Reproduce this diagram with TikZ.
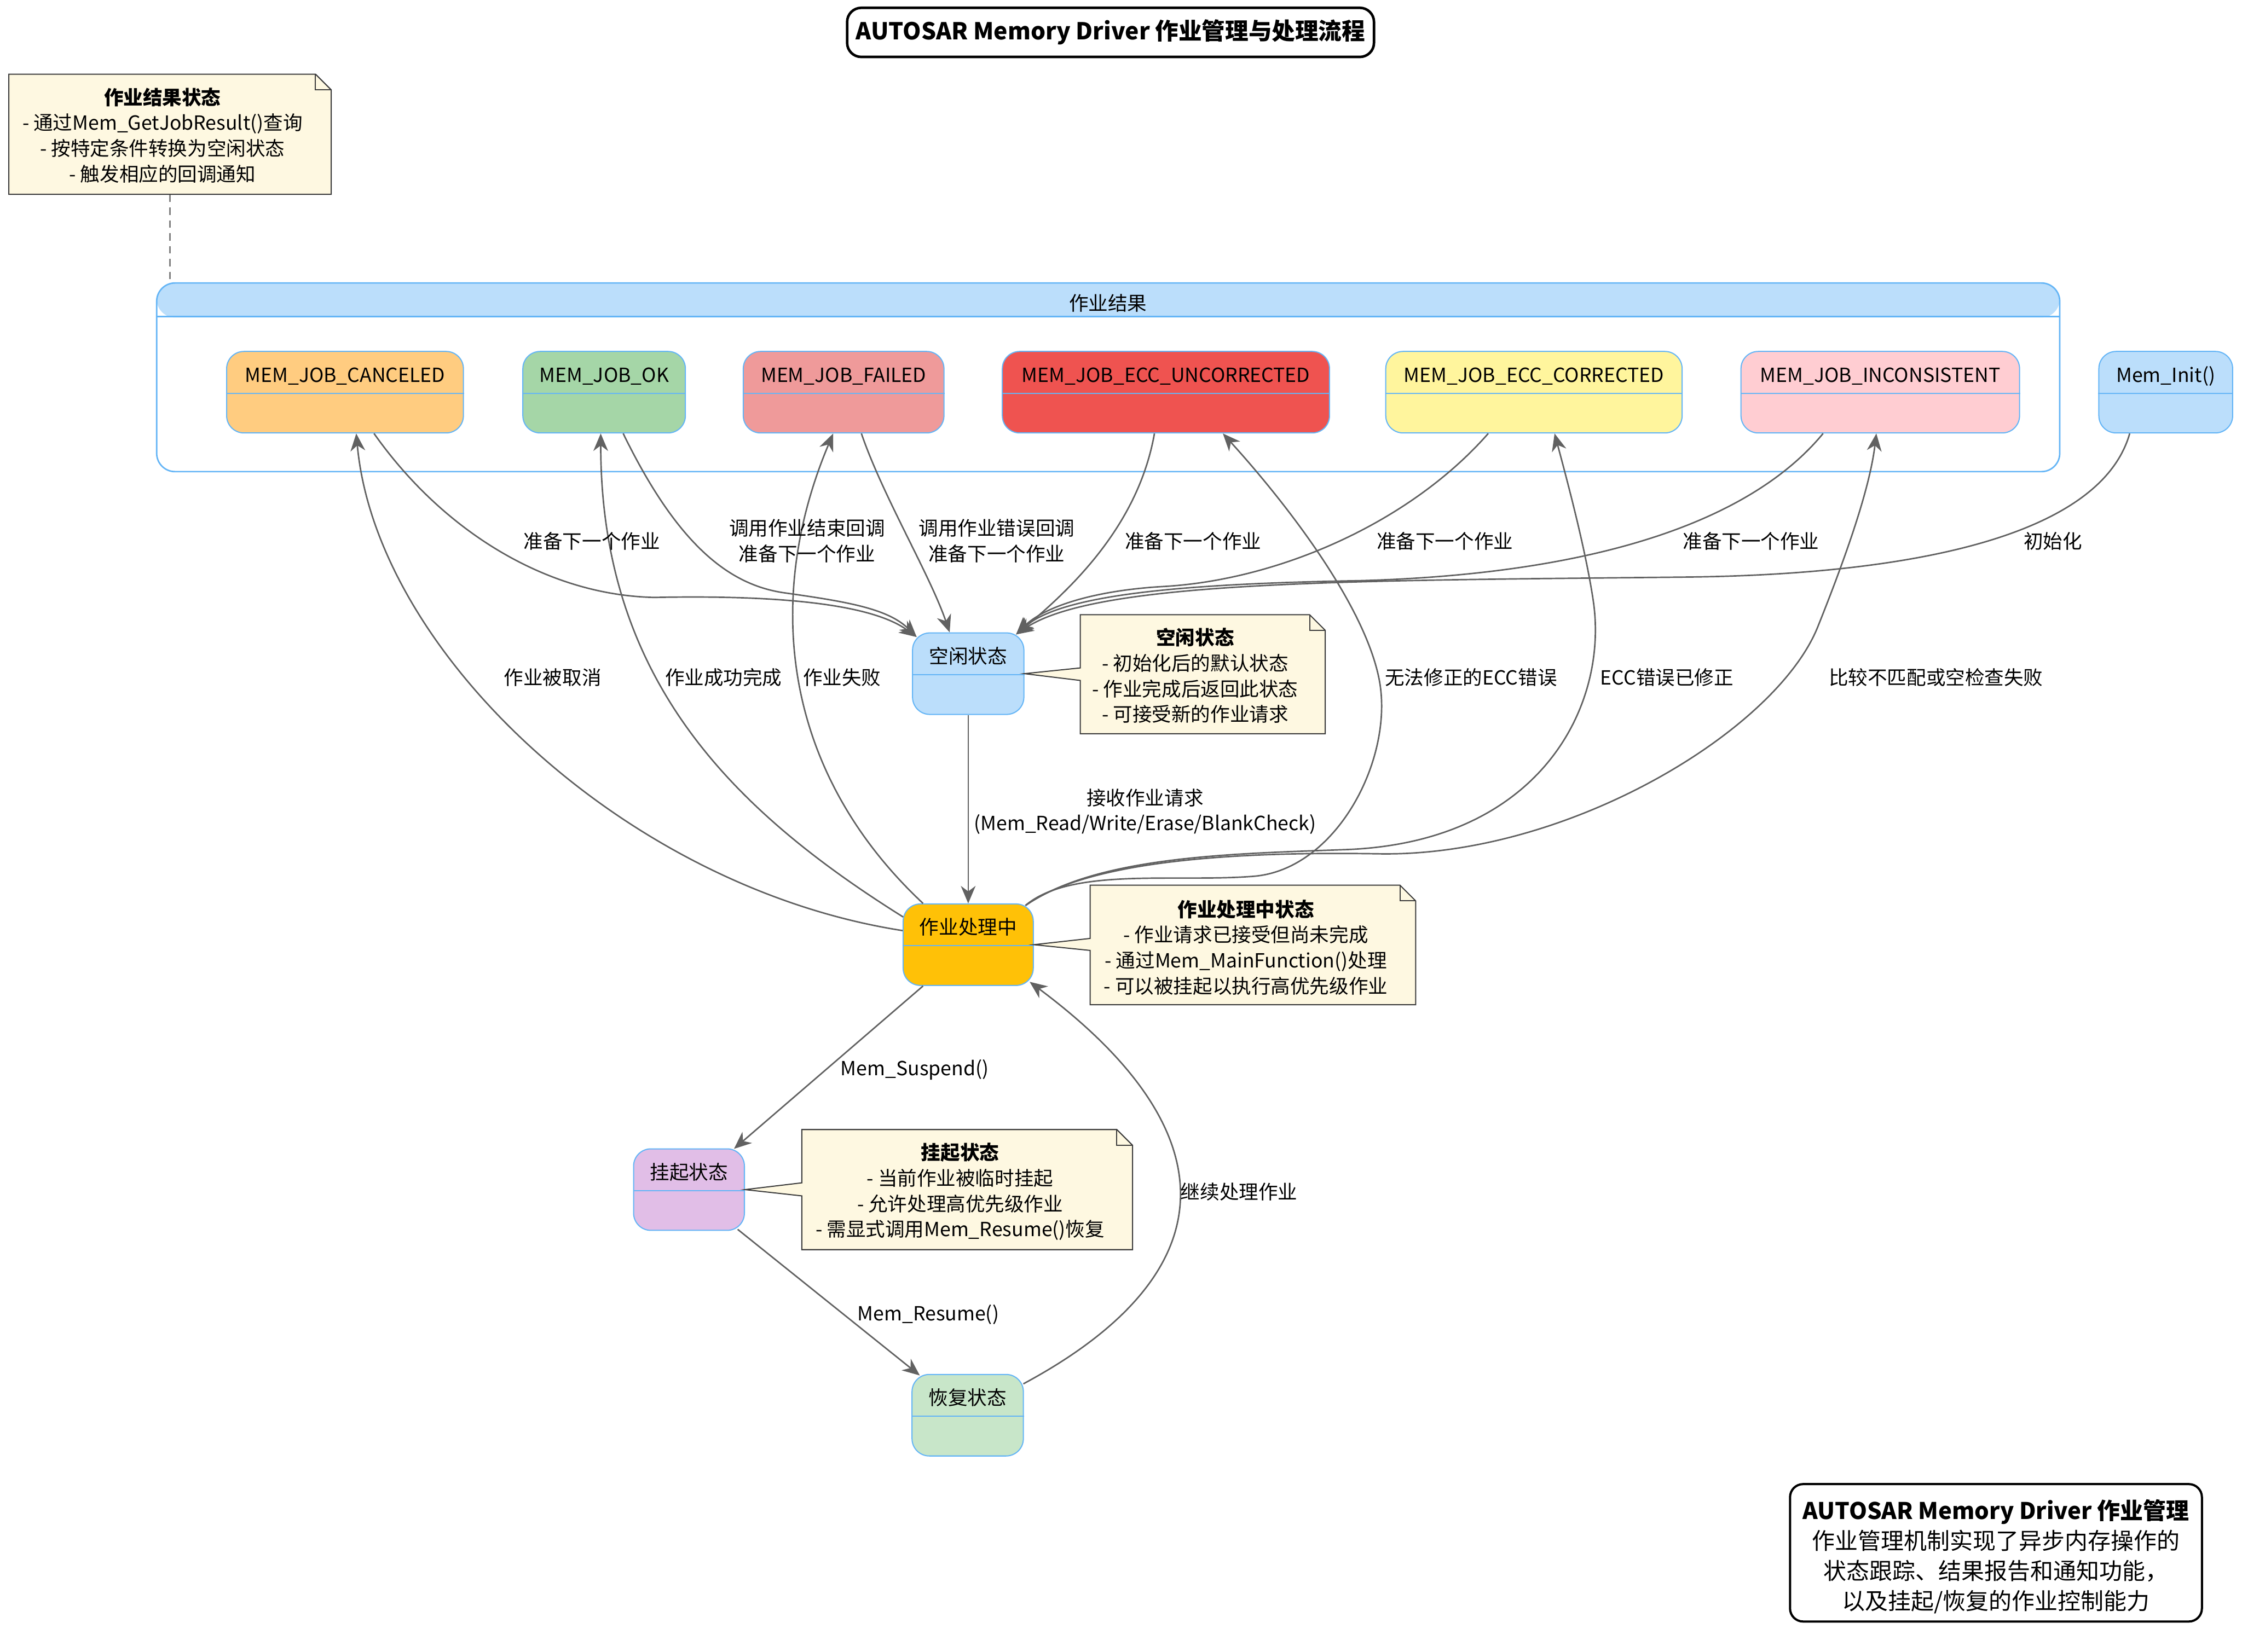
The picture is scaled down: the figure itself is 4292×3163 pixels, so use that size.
\documentclass[tikz,border=0pt]{standalone}
\usepackage{fontspec}
\setmainfont{Noto Sans CJK SC}
\usetikzlibrary{arrows.meta,calc}

\definecolor{edgec}{RGB}{97,97,97}
\definecolor{stborder}{RGB}{100,181,246}
\definecolor{notefill}{RGB}{254,248,225}
\definecolor{noteborder}{RGB}{60,60,60}
\definecolor{cCancel}{RGB}{255,204,128}
\definecolor{cOk}{RGB}{165,214,167}
\definecolor{cFailed}{RGB}{239,154,154}
\definecolor{cEccU}{RGB}{239,83,80}
\definecolor{cEccC}{RGB}{255,245,157}
\definecolor{cIncons}{RGB}{255,205,210}
\definecolor{cBlue}{RGB}{187,222,251}
\definecolor{cProc}{RGB}{255,193,7}
\definecolor{cSusp}{RGB}{225,190,231}
\definecolor{cRes}{RGB}{200,230,201}

\newcommand\mkstate[6]{%
  \node[stnode, fill=#5, minimum width=#4cm] (#1) at (#2,#3) {};
  \draw[stborder, line width=0.6pt] ([yshift=-0.81cm]#1.north west) -- ([yshift=-0.81cm]#1.north east);
  \node[sttext] (#1-t) at ([yshift=-0.50cm]#1.north) {#6};
}

\begin{document}
\begin{tikzpicture}[x=0.01cm,y=-0.01cm,
  every node/.style={font=\fontsize{10.6}{13.9}\selectfont, inner sep=0pt},
  stnode/.style={draw=stborder, line width=0.6pt, rounded corners=0.33cm, minimum height=1.56cm},
  sttext/.style={text height=7.8pt, text depth=2.4pt},
  lbl/.style={align=center},
  notebody/.style={fill=notefill, draw=noteborder, line width=0.6pt, line join=miter},
  notetext/.style={align=center},
  edge/.style={draw=edgec, line width=0.8pt, -{Stealth[length=9.5pt,width=8pt,inset=3pt]}},
]
\path[use as bounding box, fill=white] (0,0) rectangle (4292,3163);

% title
\node[draw, line width=1.4pt, rounded corners=0.27cm, minimum width=10.08cm, minimum height=0.94cm,
      font=\bfseries\fontsize{12.7}{15}\selectfont] (title) at (2126,62) {AUTOSAR Memory Driver 作业管理与处理流程};

% composite state container
\node[draw=stborder, line width=0.8pt, rounded corners=0.35cm, minimum width=36.41cm, minimum height=3.61cm,
      path picture={\fill[cBlue] ([yshift=2pt]path picture bounding box.north west) rectangle ([yshift=-0.66cm]path picture bounding box.north east);}]
      (results) at (2121.5,722.5) {};
\draw[stborder, line width=0.8pt] ([yshift=-0.66cm]results.north west) -- ([yshift=-0.66cm]results.north east);
\node (results-t) at (2121,580) {作业结果};

% top-left note
\path[notebody] (17,142) -- (604,142) -- (634,172) -- (634,372) -- (17,372) -- cycle;
\draw[noteborder, line width=0.6pt] (604,142) -- (604,172) -- (634,172);
\node[notetext, minimum width=6.17cm, minimum height=2.30cm] (note1) at (325.5,257) {};
\node[notetext] (note1-t) at (311,259) {\textbf{作业结果状态}\\- 通过Mem\_GetJobResult()查询\\- 按特定条件转换为空闲状态\\- 触发相应的回调通知};
\draw[edgec!80, line width=0.7pt, dash pattern=on 4pt off 3pt] (note1.south) -- (note1.south |- results.north);

% states
\mkstate{cancel}{660.5}{751}{4.53}{cCancel}{MEM\_JOB\_CANCELED}
\mkstate{ok}{1156.5}{751}{3.11}{cOk}{MEM\_JOB\_OK}
\mkstate{failed}{1615}{751}{3.84}{cFailed}{MEM\_JOB\_FAILED}
\mkstate{eccu}{2232}{751}{6.26}{cEccU}{MEM\_JOB\_ECC\_UNCORRECTED}
\mkstate{eccc}{2936.5}{751}{5.67}{cEccC}{MEM\_JOB\_ECC\_CORRECTED}
\mkstate{incons}{3599.5}{751}{5.33}{cIncons}{MEM\_JOB\_INCONSISTENT}
\mkstate{init}{4146}{751}{2.56}{cBlue}{Mem\_Init()}
\mkstate{idle}{1853.5}{1290}{2.13}{cBlue}{空闲状态}
\mkstate{proc}{1853.5}{1809}{2.49}{cProc}{作业处理中}
\mkstate{susp}{1319}{2278}{2.12}{cSusp}{挂起状态}
\mkstate{resume}{1852.5}{2710}{2.13}{cRes}{恢复状态}

% notes with pointers
\path[notebody] (2068,1177) -- (2507,1177) -- (2537,1207) -- (2537,1405) -- (2068,1405) -- (2068,1303) -- (idle.east) -- (2068,1279) -- cycle;
\draw[noteborder, line width=0.6pt] (2507,1177) -- (2507,1207) -- (2537,1207);
\node[notetext] (idlenote) at (2288,1294) {\textbf{空闲状态}\\- 初始化后的默认状态\\- 作业完成后返回此状态\\- 可接受新的作业请求};

\path[notebody] (2087,1695) -- (2680,1695) -- (2710,1725) -- (2710,1924) -- (2087,1924) -- (2087,1820) -- (proc.east) -- (2087,1797) -- cycle;
\draw[noteborder, line width=0.6pt] (2680,1695) -- (2680,1725) -- (2710,1725);
\node[notetext] (procnote) at (2385,1814) {\textbf{作业处理中状态}\\- 作业请求已接受但尚未完成\\- 通过Mem\_MainFunction()处理\\- 可以被挂起以执行高优先级作业};

\path[notebody] (1535,2163) -- (2138,2163) -- (2168,2193) -- (2168,2393) -- (1535,2393) -- (1535,2290) -- (susp.east) -- (1535,2265) -- cycle;
\draw[noteborder, line width=0.6pt] (2138,2163) -- (2138,2193) -- (2168,2193);
\node[notetext] (suspnote) at (1838,2282) {\textbf{挂起状态}\\- 当前作业被临时挂起\\- 允许处理高优先级作业\\- 需显式调用Mem\_Resume()恢复};

% summary box
\node[draw, line width=1.2pt, rounded corners=0.25cm, minimum width=7.88cm, minimum height=2.63cm] (summary) at (3821,2973.5) {};
\node[align=center, font=\fontsize{12.5}{16.4}\selectfont] (summary-t) at (3821,2981)
      {\textbf{AUTOSAR Memory Driver 作业管理}\\作业管理机制实现了异步内存操作的\\状态跟踪、结果报告和通知功能，\\以及挂起/恢复的作业控制能力};

% helper coordinates on idle
\coordinate (tipR) at ($(idle.north east)+(-16,4)$);
\coordinate (tipL) at ($(idle.north west)+(9,9)$);
\coordinate (procTR) at ($(proc.north east)+(-16,4)$);

% edges into idle
\draw[edge] ($(init.south)+(-69,0)$) .. controls (4020,1030) and (3650,1100) .. (3231,1105) .. controls (2600,1112) and (2100,1110) .. (tipR);
\draw[edge] ($(eccu.south)+(-22,0)$) .. controls (2180,1000) and (2060,1120) .. (tipR);
\draw[edge] ($(eccc.south)+(-87.5,0)$) .. controls (2700,1000) and (2450,1110) .. (2229,1123) .. controls (2100,1130) and (2000,1160) .. (tipR);
\draw[edge] ($(incons.south)+(-109.5,0)$) .. controls (3350,1000) and (3050,1100) .. (2600,1112) .. controls (2250,1118) and (2030,1140) .. (tipR);
\draw[edge] ($(failed.south)+(34,0)$) .. controls (1690,950) and (1780,1100) .. ($(idle.north)+(-35.5,0)$);
\draw[edge] ($(ok.south)+(36.5,0)$) .. controls (1300,1050) and (1400,1120) .. (1500,1135) .. controls (1620,1152) and (1700,1165) .. (tipL);
\draw[edge] ($(cancel.south)+(55.5,0)$) .. controls (850,1020) and (1050,1140) .. (1253,1144) .. controls (1450,1140) and (1660,1150) .. (tipL);

% idle -> processing
\draw[edge] (idle.south) -- (proc.north);

% processing -> results
\draw[edge] ($(proc.west)+(0,-27)$) .. controls (1200,1700) and (720,1250) .. ($(cancel.south)+(21.5,0)$);
\draw[edge] ($(proc.north west)+(1,26)$) .. controls (1400,1550) and (1150,1300) .. ($(ok.south)+(-6.5,0)$);
\draw[edge] ($(proc.north)+(-86.5,0)$) .. controls (1500,1480) and (1460,1150) .. ($(failed.south)+(-20,0)$);
\draw[edge] (procTR) .. controls (2050,1660) and (2250,1690) .. (2400,1678) .. controls (2560,1665) and (2670,1450) .. (2640,1300) .. controls (2610,1150) and (2450,950) .. ($(eccu.south)+(109,0)$);
\draw[edge] (procTR) .. controls (2100,1640) and (2350,1635) .. (2574,1627) .. controls (2950,1614) and (3080,1350) .. (3050,1150) .. controls (3035,1050) and (3000,920) .. ($(eccc.south)+(39.5,0)$);
\draw[edge] (procTR) .. controls (2080,1650) and (2350,1630) .. (2640,1635) .. controls (3000,1641) and (3400,1400) .. (3480,1200) .. controls (3540,1050) and (3580,930) .. ($(incons.south)+(-7.5,0)$);

% suspend / resume
\draw[edge] ($(proc.south)+(-86.5,0)$) -- ($(susp.north east)+(-21,1)$);
\draw[edge] ($(susp.south east)+(-14,-3)$) -- ($(resume.north west)+(16,3)$);
\draw[edge] ($(resume.north east)+(-1,19)$) .. controls (2350,2440) and (2360,2170) .. ($(proc.south east)+(-8,-8)$);

% edge labels
\node[lbl] (l-init) at (3930,1036) {初始化};
\node[lbl] (l-cancel) at (1133,1036) {准备下一个作业};
\node[lbl] (l-ok) at (1545,1036) {调用作业结束回调\\准备下一个作业};
\node[lbl] (l-failed) at (1908,1036) {调用作业错误回调\\准备下一个作业};
\node[lbl] (l-eccu) at (2284,1036) {准备下一个作业};
\node[lbl] (l-eccc) at (2766,1036) {准备下一个作业};
\node[lbl] (l-incons) at (3352,1036) {准备下一个作业};
\node[lbl] (l-pcancel) at (1058,1297) {作业被取消};
\node[lbl] (l-pok) at (1385,1297) {作业成功完成};
\node[lbl] (l-pfailed) at (1612,1297) {作业失败};
\node[lbl] (l-peccu) at (2816,1297) {无法修正的ECC错误};
\node[lbl] (l-peccc) at (3191,1297) {ECC错误已修正};
\node[lbl] (l-pincons) at (3706,1297) {比较不匹配或空检查失败};
\node[lbl] (l-accept) at (2192,1554) {接收作业请求\\(Mem\_Read/Write/Erase/BlankCheck)};
\node[lbl] (l-susp) at (1751,2049) {Mem\_Suspend()};
\node[lbl] (l-resume) at (1777,2517) {Mem\_Resume()};
\node[lbl] (l-cont) at (2372,2282) {继续处理作业};
\end{tikzpicture}
\end{document}
